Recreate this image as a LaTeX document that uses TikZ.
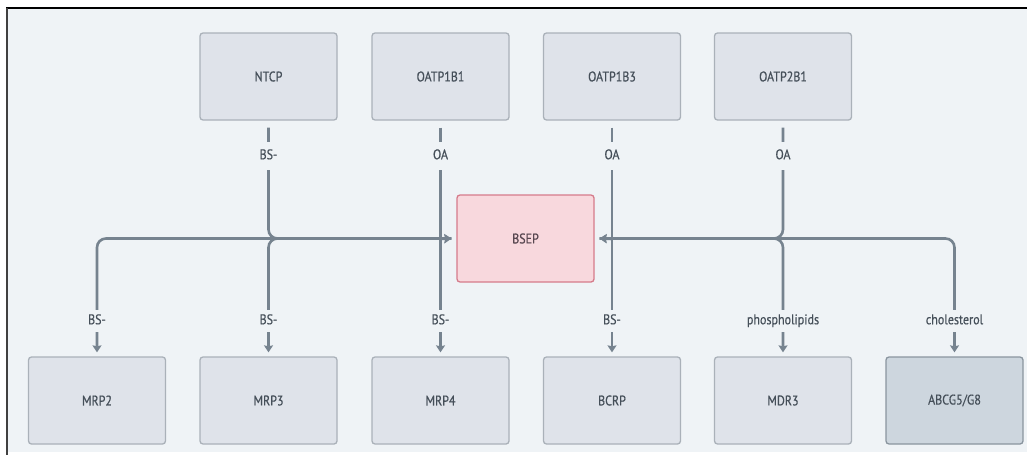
\documentclass[tikz,border=0pt]{standalone}
\usepackage{fontspec}
\setmainfont{PT Sans}[FakeStretch=0.86, FakeBold=0.45]
\usetikzlibrary{arrows.meta}
\definecolor{bgc}{HTML}{EFF3F6}
\definecolor{boxfill}{HTML}{DFE3EA}
\definecolor{boxline}{HTML}{AAB1B9}
\definecolor{darkfill}{HTML}{CDD6DE}
\definecolor{darkline}{HTML}{8A959F}
\definecolor{hotfill}{HTML}{F8D8DD}
\definecolor{hotline}{HTML}{D57B8B}
\definecolor{wire}{HTML}{76838F}
\definecolor{txt}{HTML}{454F59}
\tikzset{
  box/.style={draw=boxline, fill=boxfill, line width=1.3pt, rounded corners=3pt,
    minimum width=137pt, minimum height=87pt, inner sep=0pt,
    text=txt, font=\fontsize{14}{16}\selectfont},
  darkbox/.style={box, draw=darkline, fill=darkfill},
  hotbox/.style={box, draw=hotline, fill=hotfill, text=txt!90!red},
  conn/.style={draw=wire, line width=2.6pt, rounded corners=9pt},
  tip/.style={-{Stealth[length=7pt,width=9pt,inset=1pt]}},
  lbl/.style={fill=bgc, text=txt, font=\fontsize{14}{16}\selectfont,
    text height=9pt, text depth=2.5pt, inner xsep=2pt},
  toplbl/.style={lbl, inner ysep=8.2pt},
  botlbl/.style={lbl, inner ysep=5.2pt}
}
\begin{document}
\begin{tikzpicture}[x=1pt, y=-1pt]
% canvas and frame
\fill[white] (0,0) rectangle (1029,455);
\useasboundingbox (0,0) rectangle (1029,455);
\fill[bgc] (7,8) rectangle (1027,452);
\draw[black, line width=2pt] (6,8) -- (1027,8);
\draw[black!75, line width=1.5pt] (7,8) -- (7,455);

% uptake transporters
\node[box] (ntcp) at (268.5,76.5) {NTCP};
\node[box] (oatpa) at (440.5,76.5) {OATP1B1};
\node[box] (oatpb) at (612,76.5) {OATP1B3};
\node[box] (oatpc) at (783,76.5) {OATP2B1};
% canalicular pump
\node[hotbox] (bsep) at (525.5,238.5) {BSEP};
% efflux transporters
\node[box] (mrp2) at (97,400.5) {MRP2};
\node[box] (mrp3) at (268.5,400.5) {MRP3};
\node[box] (mrp4) at (440.5,400.5) {MRP4};
\node[box] (bcrp) at (612,400.5) {BCRP};
\node[box] (mdr3) at (783,400.5) {MDR3};
\node[darkbox] (abcg) at (954.5,400.5) {ABCG5/G8};

% junctions on the shared bus
\coordinate (ja) at (440.5,239);
\coordinate (jb) at (612,239);
\coordinate (inL) at ([xshift=-5pt]bsep.west);
\coordinate (inR) at ([xshift=5pt]bsep.east);

% into BSEP from the left
\draw[conn, tip] ([yshift=-7pt]ntcp.south) |- (inL);
\draw[conn] ([yshift=-7pt]oatpa.south) -- (ja);
\draw[conn, tip] (ja) -- (inL);
% into BSEP from the right
\draw[conn, tip] ([yshift=-7pt]oatpc.south) |- (inR);
\draw[conn] ([yshift=-7pt]oatpb.south) -- (jb);
\draw[conn, tip] (jb) -- (inR);
% out of BSEP to the left
\draw[conn, tip] (inL) -| ([yshift=4pt]mrp2.north);
\draw[conn, tip] (inL) -| ([yshift=4pt]mrp3.north);
\draw[conn, tip] (ja) -- ([yshift=4pt]mrp4.north);
% out of BSEP to the right
\draw[conn, tip] (jb) -- ([yshift=4pt]bcrp.north);
\draw[conn, tip] (inR) -| ([yshift=4pt]mdr3.north);
\draw[conn, tip] (inR) -| ([yshift=4pt]abcg.north);

% substrate labels
\node[toplbl] (l1) at (268.5,156) {BS-};
\node[toplbl] (l2) at (440.5,156) {OA};
\node[toplbl] (l3) at (612,156) {OA};
\node[toplbl] (l4) at (783,156) {OA};
\node[botlbl] (l5) at (97,321) {BS-};
\node[botlbl] (l6) at (268.5,321) {BS-};
\node[botlbl] (l7) at (440.5,321) {BS-};
\node[botlbl] (l8) at (612,321) {BS-};
\node[botlbl] (l9) at (783,321) {phospholipids};
\node[botlbl] (l10) at (954.5,321) {cholesterol};
\end{tikzpicture}
\end{document}
